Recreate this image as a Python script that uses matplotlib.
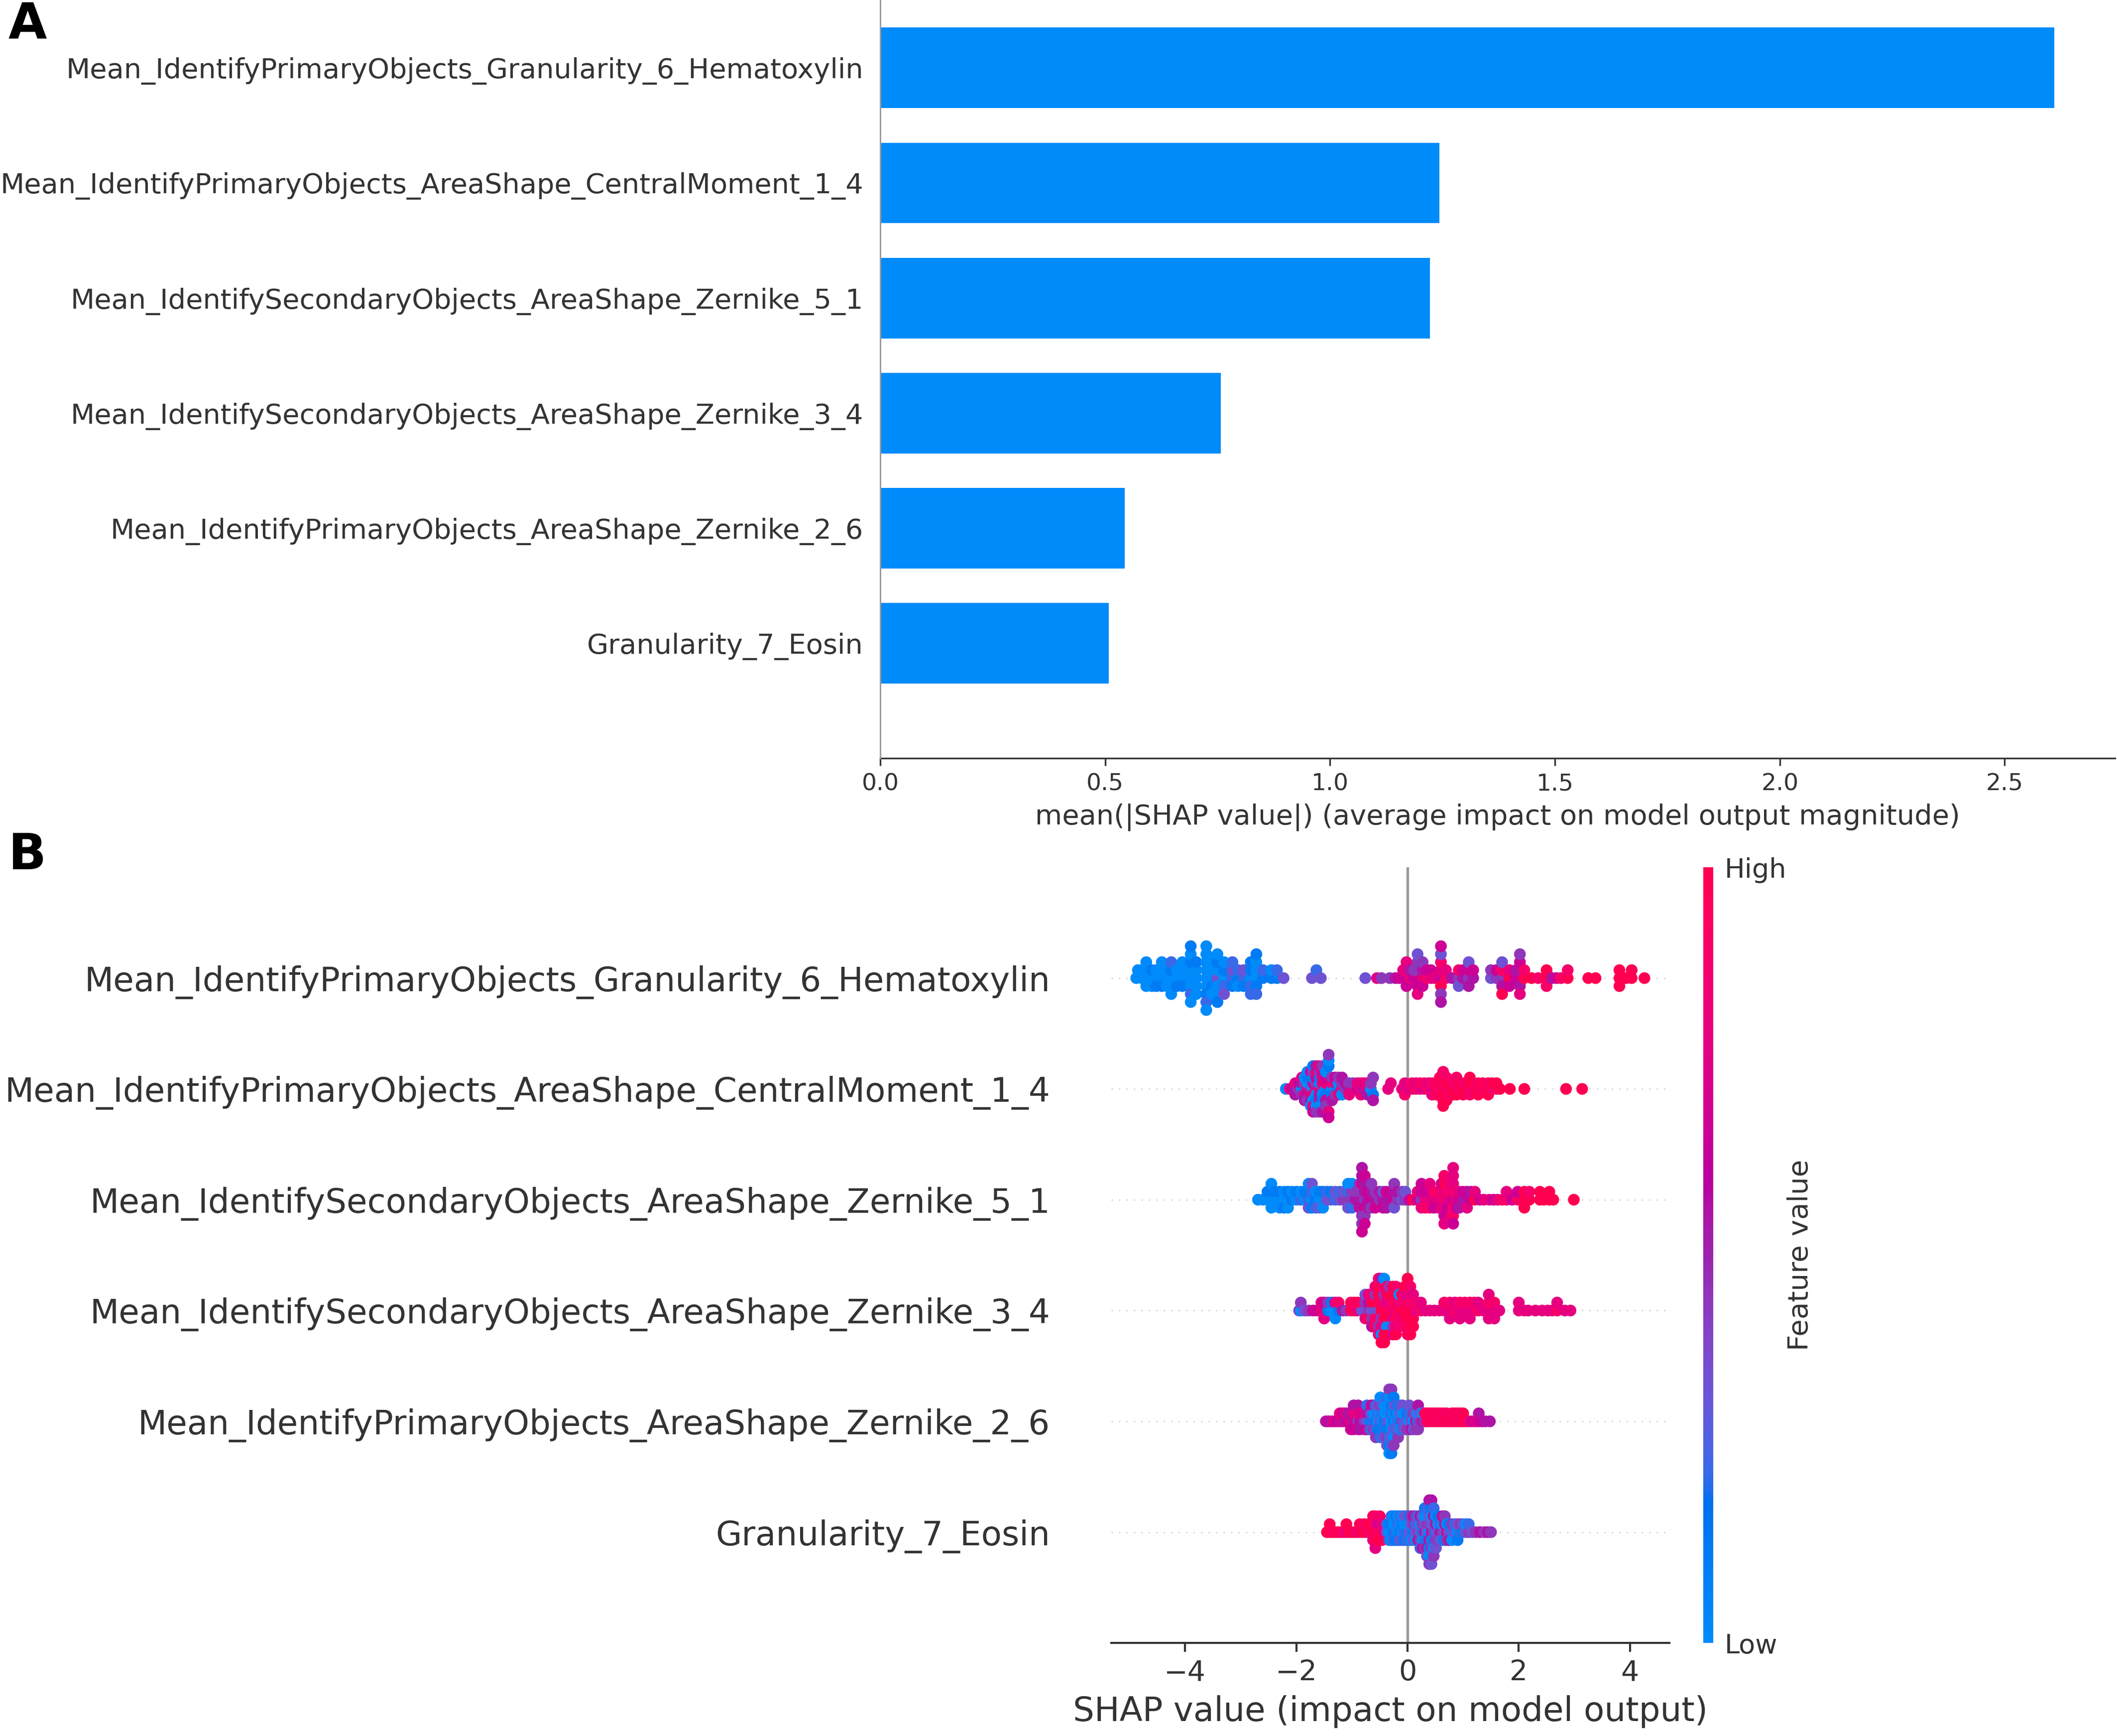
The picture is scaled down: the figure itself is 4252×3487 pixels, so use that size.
import numpy as np
import matplotlib
matplotlib.use("Agg")
from matplotlib import pyplot as plt
from matplotlib.colors import LinearSegmentedColormap
from matplotlib.cm import ScalarMappable

# Feature names, top to bottom
features = [
    "Mean_IdentifyPrimaryObjects_Granularity_6_Hematoxylin",
    "Mean_IdentifyPrimaryObjects_AreaShape_CentralMoment_1_4",
    "Mean_IdentifySecondaryObjects_AreaShape_Zernike_5_1",
    "Mean_IdentifySecondaryObjects_AreaShape_Zernike_3_4",
    "Mean_IdentifyPrimaryObjects_AreaShape_Zernike_2_6",
    "Granularity_7_Eosin",
]

# Panel A: mean |SHAP| per feature (same order)
bar_values = [2.61, 1.243, 1.222, 0.757, 0.544, 0.508]

# Panel B: (SHAP value, feature levels) - one digit per sample, 0 = low ... 9 = high
row_gran6 = [(-4.88, "0"), (-4.85, "0"), (-4.78, "00"), (-4.70, "0000"), (-4.60, "010"),
             (-4.52, "001"), (-4.42, "0010"), (-4.33, "000"), (-4.25, "01020"), (-4.15, "001"),
             (-4.05, "0010"), (-3.90, "00012001"), (-3.80, "00010"), (-3.62, "000010200"),
             (-3.52, "00100"), (-3.42, "3001001"), (-3.30, "01203"), (-3.15, "2312"),
             (-3.05, "120"), (-2.95, "231"), (-2.82, "01212"), (-2.72, "001021"), (-2.60, "12"),
             (-2.45, "10"), (-2.35, "12"), (-2.23, "3"), (-1.72, "3"), (-1.64, "2"), (-1.56, "3"),
             (-0.76, "3"), (-0.55, "7"), (-0.47, "4"), (-0.32, "4"), (-0.22, "5"), (-0.15, "6"),
             (-0.08, "67"), (-0.02, "67"), (0.05, "75"), (0.12, "64"), (0.18, "6473"),
             (0.27, "7564"), (0.35, "86"), (0.42, "76"), (0.48, "7"), (0.60, "67984356"),
             (0.69, "87"), (0.80, "5"), (0.92, "483"), (1.00, "56"), (1.10, "4653"), (1.18, "56"),
             (1.50, "34"), (1.60, "46"), (1.70, "48539"), (1.83, "976"), (1.95, "65"),
             (2.02, "5674"), (2.10, "98"), (2.23, "9"), (2.35, "8"), (2.50, "998"), (2.60, "5"),
             (2.68, "6"), (2.76, "8"), (2.88, "98"), (3.25, "9"), (3.38, "9"), (3.81, "999"),
             (3.93, "9"), (4.03, "99"), (4.26, "9")]

row_cm14 = [(-2.19, "0"), (-2.12, "7"), (-2.08, "6"), (-2.02, "575"), (-1.96, "46"),
            (-1.90, "0547"), (-1.85, "14705"), (-1.80, "705140"), (-1.74, "4071560"),
            (-1.70, "057104716"), (-1.64, "740617054"), (-1.58, "706154074"),
            (-1.53, "470716045"), (-1.47, "0716504"), (-1.42, "17064"), (-1.36, "07145"),
            (-1.30, "0746"), (-1.24, "1074"), (-1.18, "7405"), (-1.12, "45"), (-1.05, "547"),
            (-0.98, "74"), (-0.90, "67"), (-0.84, "777"), (-0.78, "57"), (-0.72, "775"),
            (-0.66, "04"), (-0.62, "145"), (-0.35, "7"), (-0.30, "7"), (-0.10, "7"),
            (-0.05, "778"), (0.00, "7"), (0.08, "78"), (0.15, "87"), (0.22, "78"), (0.30, "78"),
            (0.38, "87"), (0.44, "787"), (0.52, "889"), (0.58, "8989"), (0.64, "9899989"),
            (0.70, "89989"), (0.76, "898"), (0.82, "989"), (0.88, "9898"), (0.94, "89"),
            (1.00, "989"), (1.06, "98"), (1.12, "8989"), (1.18, "89"), (1.27, "989"),
            (1.35, "89"), (1.45, "989"), (1.52, "89"), (1.60, "89"), (1.66, "9"), (1.84, "9"),
            (2.10, "9"), (2.85, "9"), (3.14, "9")]

row_z51 = [(-2.69, "0"), (-2.60, "0"), (-2.52, "01"), (-2.45, "0100"), (-2.38, "01"),
           (-2.30, "010"), (-2.22, "001"), (-2.15, "010"), (-2.08, "10"), (-2.00, "01"),
           (-1.92, "20"), (-1.85, "01"), (-1.78, "2130"), (-1.72, "0213"), (-1.65, "102"),
           (-1.58, "013"), (-1.52, "010"), (-1.45, "32"), (-1.38, "31"), (-1.30, "23"),
           (-1.22, "32"), (-1.15, "43"), (-1.07, "4230"), (-1.00, "4420"), (-0.93, "54"),
           (-0.86, "5464"), (-0.82, "545645456"), (-0.77, "4565466"), (-0.71, "565"),
           (-0.65, "6544"), (-0.58, "546"), (-0.50, "45"), (-0.44, "536"), (-0.38, "565"),
           (-0.30, "56"), (-0.24, "6534"), (-0.18, "45"), (-0.10, "34"), (-0.04, "43"),
           (0.04, "6"), (0.11, "9"), (0.18, "67"), (0.25, "4676"), (0.32, "768"), (0.40, "7687"),
           (0.47, "786"), (0.55, "786"), (0.61, "7876"), (0.66, "8779687"), (0.72, "7868"),
           (0.78, "78687"), (0.82, "67878767"), (0.88, "786"), (0.93, "675"), (1.00, "56"),
           (1.07, "567"), (1.14, "65"), (1.21, "97"), (1.30, "6"), (1.37, "7"), (1.47, "7"),
           (1.55, "6"), (1.62, "7"), (1.70, "8"), (1.78, "87"), (1.88, "6"), (1.98, "86"),
           (2.10, "999"), (2.19, "98"), (2.38, "99"), (2.45, "9"), (2.55, "99"), (2.62, "9"),
           (2.99, "9")]

row_z34 = [(-1.95, "4"), (-1.92, "04"), (-1.85, "3"), (-1.78, "4"), (-1.70, "6"), (-1.63, "6"),
           (-1.55, "77"), (-1.50, "767"), (-1.43, "14"), (-1.36, "01"), (-1.30, "070"),
           (-1.24, "18"), (-1.17, "5"), (-1.10, "4"), (-1.02, "89"), (-0.96, "98"), (-0.90, "79"),
           (-0.82, "38"), (-0.76, "3473"), (-0.70, "4597"), (-0.64, "39485"), (-0.58, "398497"),
           (-0.52, "39894978"), (-0.47, "984979059"), (-0.42, "989478909"), (-0.37, "9798089"),
           (-0.32, "8799049"), (-0.26, "9879497"), (-0.21, "7989789"), (-0.15, "97908"),
           (-0.10, "9879"), (-0.05, "989789"), (0.00, "98978989"), (0.05, "9897989"),
           (0.10, "98979"), (0.16, "78"), (0.24, "87"), (0.32, "7"), (0.40, "7"), (0.48, "7"),
           (0.57, "7"), (0.66, "78"), (0.76, "787"), (0.85, "87"), (0.94, "787"), (1.03, "78"),
           (1.12, "787"), (1.20, "78"), (1.27, "87"), (1.36, "7"), (1.46, "7877"), (1.56, "787"),
           (1.65, "7"), (2.00, "77"), (2.10, "7"), (2.17, "7"), (2.30, "7"), (2.42, "7"),
           (2.52, "7"), (2.60, "7"), (2.69, "87"), (2.83, "7"), (2.93, "7")]

row_z26 = [(-1.47, "5"), (-1.42, "6"), (-1.37, "5"), (-1.32, "7"), (-1.27, "6"), (-1.22, "57"),
           (-1.17, "76"), (-1.12, "57"), (-1.07, "65"), (-1.02, "756"), (-0.97, "5765"),
           (-0.93, "67"), (-0.89, "4765"), (-0.85, "675"), (-0.81, "56"), (-0.77, "475"),
           (-0.73, "3562"), (-0.69, "254"), (-0.65, "1326"), (-0.61, "2045"), (-0.57, "10324"),
           (-0.53, "0213"), (-0.49, "301420"), (-0.45, "0213"), (-0.41, "10203"),
           (-0.37, "2010423"), (-0.33, "301020140"), (-0.29, "020130241"), (-0.25, "1032014"),
           (-0.21, "0123"), (-0.17, "20314"), (-0.13, "1302"), (-0.09, "4023"), (-0.05, "203"),
           (-0.01, "314"), (0.03, "0243"), (0.07, "325"), (0.11, "043"), (0.15, "534"),
           (0.19, "2045"), (0.23, "43"), (0.27, "50"), (0.31, "48"), (0.35, "89"), (0.40, "98"),
           (0.45, "89"), (0.50, "98"), (0.55, "89"), (0.60, "98"), (0.65, "89"), (0.70, "98"),
           (0.75, "9"), (0.80, "89"), (0.85, "98"), (0.90, "89"), (0.95, "98"), (1.00, "89"),
           (1.05, "9"), (1.10, "8"), (1.16, "6"), (1.22, "7"), (1.28, "65"), (1.34, "6"),
           (1.40, "5"), (1.48, "5")]

row_eosin = [(-1.45, "9"), (-1.40, "99"), (-1.35, "9"), (-1.30, "8"), (-1.25, "9"), (-1.20, "9"),
             (-1.15, "8"), (-1.10, "79"), (-1.05, "9"), (-1.00, "9"), (-0.95, "8"), (-0.90, "9"),
             (-0.86, "79"), (-0.82, "9"), (-0.78, "98"), (-0.74, "9"), (-0.70, "89"), (-0.66, "9"),
             (-0.62, "8979"), (-0.58, "98987"), (-0.54, "979"), (-0.50, "8698"), (-0.46, "979"),
             (-0.42, "7"), (-0.37, "32"), (-0.33, "012"), (-0.29, "0102"), (-0.25, "1020"),
             (-0.21, "2011"), (-0.17, "0210"), (-0.13, "1032"), (-0.09, "0120"), (-0.05, "2013"),
             (-0.01, "1023"), (0.03, "3021"), (0.07, "2304"), (0.11, "1435"), (0.15, "3204"),
             (0.19, "4352"), (0.23, "30452"), (0.27, "14035"), (0.31, "532041"),
             (0.35, "3410523"), (0.39, "045312054"), (0.43, "532041053"), (0.47, "4315024"),
             (0.51, "25403"), (0.55, "3041"), (0.59, "523"), (0.63, "4026"), (0.67, "3514"),
             (0.71, "604"), (0.75, "315"), (0.80, "240"), (0.85, "32"), (0.90, "031"),
             (0.95, "24"), (1.00, "13"), (1.05, "30"), (1.10, "42"), (1.16, "3"), (1.22, "4"),
             (1.30, "5"), (1.38, "4"), (1.44, "5"), (1.50, "4")]

swarm_rows = [row_gran6, row_cm14, row_z51, row_z34, row_z26, row_eosin]

axis_color = "#333333"
bar_color = (0.0, 0.54337757, 0.98337906)


# shap style red-blue colour map, built in LCH space
def lch_to_rgb(l, c, h):
    a = c * np.cos(h)
    b = c * np.sin(h)
    fy = (l + 16) / 116
    fx = fy + a / 500
    fz = fy - b / 200

    def finv(t):
        return np.where(t > 6 / 29, t ** 3, 3 * (6 / 29) ** 2 * (t - 4 / 29))

    xyz = np.array([0.95047 * finv(fx), finv(fy), 1.08883 * finv(fz)])
    m = np.array([[3.2406, -1.5372, -0.4986],
                  [-0.9689, 1.8758, 0.0415],
                  [0.0557, -0.2040, 1.0570]])
    rgb = m @ xyz
    rgb = np.where(rgb > 0.0031308,
                   1.055 * np.power(np.clip(rgb, 0, None), 1 / 2.4) - 0.055,
                   12.92 * rgb)
    return np.clip(rgb, 0, 1)


nsteps = 100
l_vals = list(np.linspace(54., 40., nsteps // 2)) + list(np.linspace(40., 54., nsteps // 2))
c_vals = np.linspace(70., 90., nsteps)
h_vals = np.linspace(4.6588, 0.35470565 + 2 * np.pi, nsteps)
cmap_colors = [lch_to_rgb(l, c, h) for l, c, h in zip(l_vals, c_vals, h_vals)]
red_blue = LinearSegmentedColormap.from_list("red_blue", cmap_colors)


def swarm_offsets(vals, row_height=0.4):
    # beeswarm stacking: same bin -> alternate up / down
    vals = np.asarray(vals)
    nbins = 100
    quant = np.round(nbins * (vals - vals.min()) / (vals.max() - vals.min() + 1e-8))
    inds = np.argsort(quant, kind="stable")
    layer = 0
    last_bin = -1
    ys = np.zeros(len(vals))
    for ind in inds:
        if quant[ind] != last_bin:
            layer = 0
        ys[ind] = np.ceil(layer / 2) * ((layer % 2) * 2 - 1)
        layer += 1
        last_bin = quant[ind]
    ys *= 0.9 * (row_height / np.max(ys + 1))
    return ys


W, H = 4252, 3487
fig = plt.figure(figsize=(W / 300, H / 300), dpi=300)

# ---------------- Panel A: bar chart ----------------
axA = fig.add_axes([0.4158, 0.5632, 0.999 - 0.4158, 1 - 0.5632])
n = len(features)
y_pos = np.arange(n)[::-1]
axA.barh(y_pos, bar_values, 0.7, align="center", color=bar_color)
axA.set_yticks(y_pos)
axA.set_yticklabels(features, fontsize=13.4, color=axis_color)
axA.set_ylim(-1, 5.59)
axA.set_xlim(0, 2.745)
axA.set_xticks([0.0, 0.5, 1.0, 1.5, 2.0, 2.5])
axA.tick_params("x", labelsize=11.3, colors=axis_color)
axA.tick_params("y", length=0, pad=8.2)
for side in ["top", "right", "left"]:
    axA.spines[side].set_visible(False)
axA.spines["bottom"].set_color(axis_color)
axA.axvline(0, color="#999999", lw=0.7, clip_on=False, zorder=3)
axA.set_xlabel("mean(|SHAP value|) (average impact on model output magnitude)",
               fontsize=13.4, color=axis_color)

# ---------------- Panel B: beeswarm ----------------
axB = fig.add_axes([0.5249, 0.0536, 0.7886 - 0.5249, 0.5004 - 0.0536])
axB.axvline(0, color="#999999", lw=1.25, zorder=-1)
for i, row in enumerate(swarm_rows):
    pos = n - 1 - i
    vals = np.array([v for v, codes in row for _ in codes])
    levels = np.array([int(ch) / 9 for v, codes in row for ch in codes])
    axB.axhline(pos, color="#cccccc", lw=0.6, dashes=(1, 5), zorder=-1)
    ys = swarm_offsets(vals)
    axB.scatter(vals, pos + ys, c=levels, cmap=red_blue, vmin=0, vmax=1,
                s=32, linewidth=0, zorder=3, rasterized=True)

axB.set_yticks(y_pos)
axB.set_yticklabels(features, fontsize=16.2, color=axis_color)
axB.tick_params("y", length=0, pad=29.5)
axB.set_xlim(-5.33, 4.71)
axB.set_ylim(-1, n)
axB.set_xticks([-4, -2, 0, 2, 4])
axB.tick_params("x", labelsize=13.7, colors=axis_color, length=4.4, width=1.0)
for side in ["top", "right", "left"]:
    axB.spines[side].set_visible(False)
axB.spines["bottom"].set_color(axis_color)
axB.spines["bottom"].set_linewidth(1.0)
axB.set_xlabel("SHAP value (impact on model output)", fontsize=16.2, color=axis_color)

# colour bar
cax = fig.add_axes([3421 / W, 0.0536, 20 / W, 0.5004 - 0.0536])
sm = ScalarMappable(cmap=red_blue)
sm.set_array([0, 1])
cb = fig.colorbar(sm, cax=cax, ticks=[0, 1])
cb.set_ticklabels(["Low", "High"])
cb.ax.tick_params(labelsize=13, length=0, pad=5.5, labelcolor=axis_color)
cb.set_label("Feature value", size=13.5, labelpad=0, color=axis_color)
cb.outline.set_visible(False)

# panel letters
fig.text(17 / W, 1 - 2 / H, "A", fontsize=24, fontweight="bold", va="top", ha="left")
fig.text(17 / W, 1 - 1670 / H, "B", fontsize=24, fontweight="bold", va="top", ha="left")

fig.savefig("out.png", dpi=300)
